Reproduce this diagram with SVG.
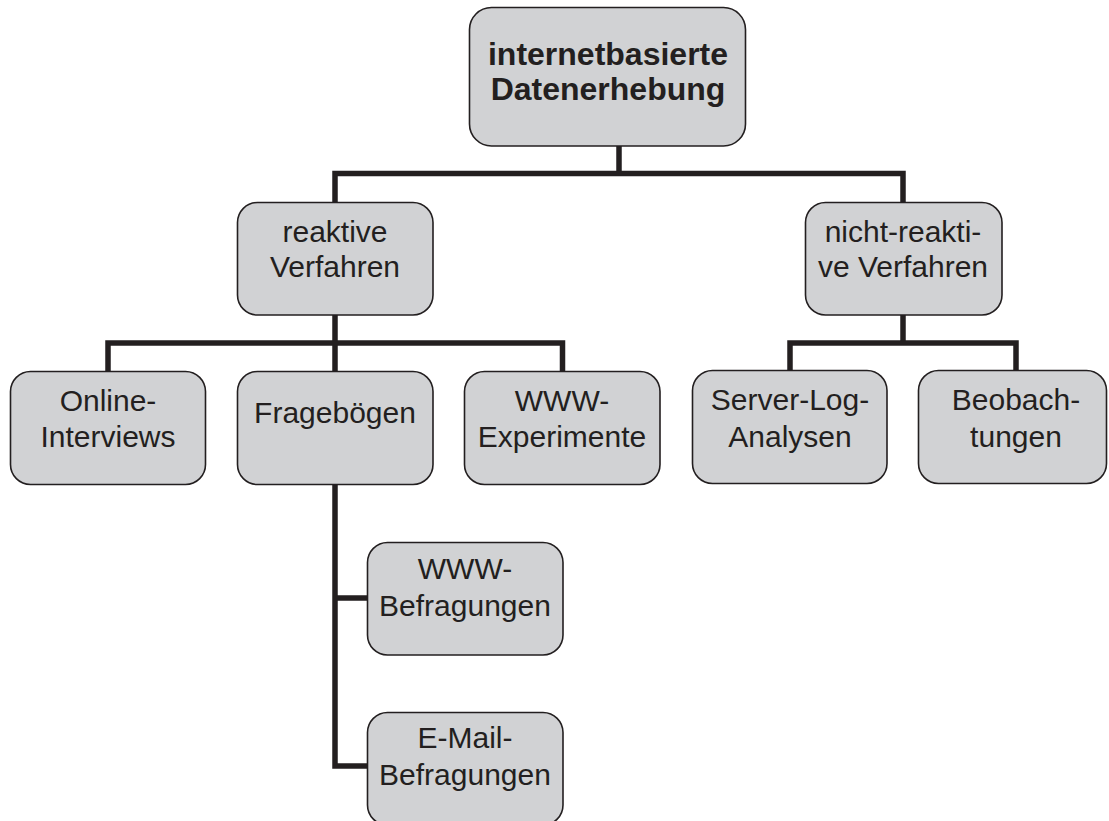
<svg xmlns="http://www.w3.org/2000/svg" width="1109" height="821" viewBox="0 0 1109 821">
<style>
.box{fill:#d1d2d4;stroke:#231f20;stroke-width:1.6}
.t{font-family:"Liberation Sans",Arial,sans-serif;font-size:30px;fill:#231f20;text-anchor:middle}
.b{font-weight:bold;font-size:32px}
.c{fill:none;stroke:#231f20;stroke-width:5.5;stroke-linecap:square;stroke-linejoin:miter}
</style>
<rect width="1109" height="821" fill="#ffffff"/>
<g id="connectors">
<path class="c" d="M619,146V173.5M335,202V173.5H903V202"/>
<path class="c" d="M335,315V343M108,372V343H562.5V372M335,343V372"/>
<path class="c" d="M903,315V343M790,370V343H1016V370"/>
<path class="c" d="M335,484V766H367M335,598H367"/>
</g>
<g id="root">
<rect class="box" x="469.5" y="7.5" width="276" height="138.5" rx="22"/>
<text class="t b" x="608" y="65">internetbasierte</text>
<text class="t b" x="608" y="100">Datenerhebung</text>
</g>
<g id="reaktiv">
<rect class="box" x="237.5" y="202.5" width="195.5" height="112.5" rx="20"/>
<text class="t" x="335" y="242">reaktive</text>
<text class="t" x="335" y="277">Verfahren</text>
</g>
<g id="nichtreaktiv">
<rect class="box" x="805.5" y="202.5" width="196.5" height="112.5" rx="20"/>
<text class="t" x="903" y="242">nicht-reakti-</text>
<text class="t" x="903" y="277">ve Verfahren</text>
</g>
<g id="online">
<rect class="box" x="10.5" y="371.5" width="195" height="113" rx="20"/>
<text class="t" x="108" y="411">Online-</text>
<text class="t" x="108" y="447">Interviews</text>
</g>
<g id="frageboegen">
<rect class="box" x="237.5" y="371.5" width="195.5" height="113" rx="20"/>
<text class="t" x="335" y="423">Fragebögen</text>
</g>
<g id="experimente">
<rect class="box" x="464.5" y="371.5" width="195.5" height="113" rx="20"/>
<text class="t" x="562" y="411">WWW-</text>
<text class="t" x="562" y="447">Experimente</text>
</g>
<g id="serverlog">
<rect class="box" x="692.5" y="370.5" width="194.5" height="113" rx="20"/>
<text class="t" x="790" y="410">Server-Log-</text>
<text class="t" x="790" y="447">Analysen</text>
</g>
<g id="beobachtungen">
<rect class="box" x="918.5" y="370.5" width="188" height="113" rx="20"/>
<text class="t" x="1016" y="410">Beobach-</text>
<text class="t" x="1016" y="447">tungen</text>
</g>
<g id="wwwbefragungen">
<rect class="box" x="367.5" y="542.5" width="195.5" height="112.5" rx="20"/>
<text class="t" x="465" y="579">WWW-</text>
<text class="t" x="465" y="616">Befragungen</text>
</g>
<g id="emailbefragungen">
<rect class="box" x="367.5" y="712.5" width="195.5" height="112.5" rx="20"/>
<text class="t" x="465" y="748">E-Mail-</text>
<text class="t" x="465" y="785">Befragungen</text>
</g>
</svg>
